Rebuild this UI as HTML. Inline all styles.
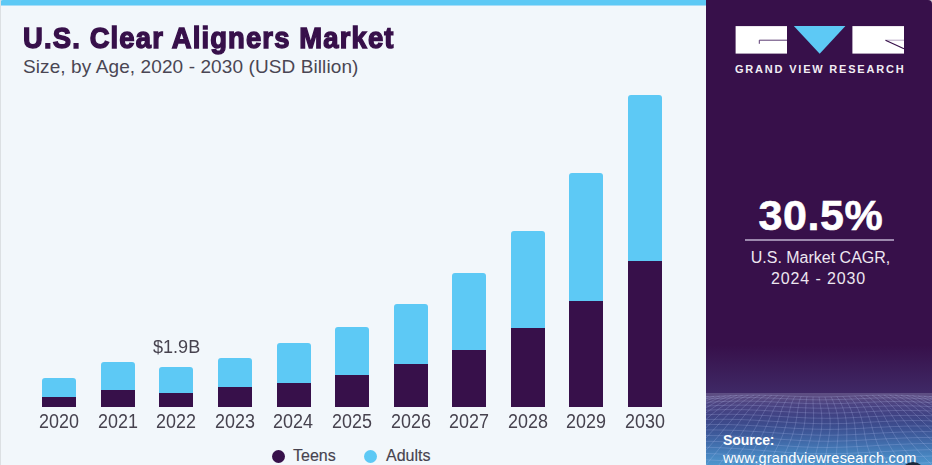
<!DOCTYPE html>
<html>
<head>
<meta charset="utf-8">
<style>
*{margin:0;padding:0;box-sizing:border-box;}
html,body{width:932px;height:465px;overflow:hidden;}
body{position:relative;background:#F2F7FB;}
body{font-family:"Liberation Sans",sans-serif;}
.abs{position:absolute;}
#topbar{left:0;top:0;width:706px;height:6px;border-top-left-radius:3px;background:linear-gradient(#5DC9F5 0,#5DC9F5 5px,#A6DDF8 5px);}
#title{left:22.5px;top:20.5px;font-size:29.5px;font-weight:bold;color:#37104A;white-space:nowrap;line-height:34px;letter-spacing:1.22px;transform:scaleX(0.93);transform-origin:0 0;-webkit-text-stroke:1.4px #37104A;}
#sub{left:23px;top:56px;font-size:19px;color:#4a4653;white-space:nowrap;line-height:22px;letter-spacing:0.1px;}
.bar{position:absolute;width:34px;}
.lt{background:#5DC9F5;border-radius:3px 3px 0 0;}
.dk{background:#37104A;}
.yl{position:absolute;top:410px;font-size:19.5px;color:#47434f;width:58px;text-align:center;line-height:22px;transform:scaleX(0.92);}
#val{left:153px;top:336px;font-size:19px;color:#47434f;line-height:22px;transform:scaleX(0.95);transform-origin:0 0;}
.dot{position:absolute;width:13px;height:13px;border-radius:50%;top:450px;}
.lg{position:absolute;top:446px;font-size:16px;color:#47434f;-webkit-text-stroke:0.15px #47434f;line-height:20px;}
#panel{left:706px;top:0;width:226px;height:465px;background:linear-gradient(180deg,#37104A 0px,#37104A 345px,#3F2966 393px);border-top-right-radius:4px;overflow:hidden;}
#panel .abs{position:absolute;}
#gvr{left:29px;top:61.5px;font-size:11px;font-weight:bold;letter-spacing:1.8px;color:#F2EDF4;white-space:nowrap;line-height:14px;}
#cagr{left:52.5px;top:190.5px;font-size:43px;font-weight:bold;color:#fff;white-space:nowrap;line-height:48px;letter-spacing:0.6px;-webkit-text-stroke:0.6px #fff;}
#hline{left:39px;top:239px;width:149px;height:2px;background:#9C88AE;}
#cagrt{left:1.5px;top:247px;width:226px;text-align:center;font-size:16px;color:#EDE6F0;line-height:21px;white-space:nowrap;}
#cagrt2{left:-0.5px;top:268px;width:226px;text-align:center;font-size:16px;color:#EDE6F0;line-height:21px;white-space:nowrap;letter-spacing:0.86px;}
#grad{left:0;top:393px;width:226px;height:72px;background:linear-gradient(180deg,#5F4F83 0px,#574980 5px,#4A4382 12px,#404384 22px,#3C4C8D 32px,#3E5C9C 42px,#4270AE 52px,#4784BF 62px,#4E96CD 72px);}
#src1{left:17px;top:431.5px;font-size:14px;font-weight:bold;color:#fff;line-height:16px;letter-spacing:-0.1px;}
#src2{left:17px;top:449.5px;font-size:14.5px;color:#fff;line-height:16px;white-space:nowrap;letter-spacing:0.2px;}
#circ{left:195px;top:462px;width:24px;height:24px;border-radius:50%;background:#1B2B3E;}
</style>
</head>
<body>
<div id="topbar" class="abs"></div>
<div class="abs" style="left:0;top:0;width:1px;height:465px;background:#DCE0E3"></div>
<div id="title" class="abs">U.S. Clear Aligners Market</div>
<div id="sub" class="abs">Size, by Age, 2020 - 2030 (USD Billion)</div>


<div class="bar lt" style="left:42.3px;top:378.4px;height:18.4px"></div>
<div class="bar dk" style="left:42.3px;top:396.8px;height:10.2px"></div>
<div class="bar lt" style="left:100.9px;top:361.7px;height:27.9px"></div>
<div class="bar dk" style="left:100.9px;top:389.6px;height:17.4px"></div>
<div class="bar lt" style="left:159.4px;top:367px;height:25.6px"></div>
<div class="bar dk" style="left:159.4px;top:392.6px;height:14.4px"></div>
<div class="bar lt" style="left:218.0px;top:358px;height:29.2px"></div>
<div class="bar dk" style="left:218.0px;top:387.2px;height:19.8px"></div>
<div class="bar lt" style="left:276.6px;top:343px;height:39.6px"></div>
<div class="bar dk" style="left:276.6px;top:382.6px;height:24.4px"></div>
<div class="bar lt" style="left:335.2px;top:327.4px;height:47.4px"></div>
<div class="bar dk" style="left:335.2px;top:374.8px;height:32.2px"></div>
<div class="bar lt" style="left:393.7px;top:304.2px;height:59.6px"></div>
<div class="bar dk" style="left:393.7px;top:363.8px;height:43.2px"></div>
<div class="bar lt" style="left:452.3px;top:273px;height:76.7px"></div>
<div class="bar dk" style="left:452.3px;top:349.7px;height:57.3px"></div>
<div class="bar lt" style="left:510.9px;top:231px;height:97.0px"></div>
<div class="bar dk" style="left:510.9px;top:328px;height:79.0px"></div>
<div class="bar lt" style="left:569.4px;top:173px;height:127.5px"></div>
<div class="bar dk" style="left:569.4px;top:300.5px;height:106.5px"></div>
<div class="bar lt" style="left:628.0px;top:95px;height:165.5px"></div>
<div class="bar dk" style="left:628.0px;top:260.5px;height:146.5px"></div>
<div class="yl" style="left:30.0px">2020</div>
<div class="yl" style="left:88.6px">2021</div>
<div class="yl" style="left:147.2px">2022</div>
<div class="yl" style="left:205.8px">2023</div>
<div class="yl" style="left:264.3px">2024</div>
<div class="yl" style="left:322.9px">2025</div>
<div class="yl" style="left:381.5px">2026</div>
<div class="yl" style="left:440.0px">2027</div>
<div class="yl" style="left:498.6px">2028</div>
<div class="yl" style="left:557.2px">2029</div>
<div class="yl" style="left:615.8px">2030</div>


<div id="val" class="abs">$1.9B</div>

<div class="dot" style="left:272px;background:#37104A"></div>
<div class="lg" style="left:293px">Teens</div>
<div class="dot" style="left:364px;background:#5DC9F5"></div>
<div class="lg" style="left:386px">Adults</div>

<div class="abs" style="left:924px;top:0;width:8px;height:8px;background:#CFCAD3"></div>
<div id="panel" class="abs">
<svg class="abs" style="left:0;top:0" width="226" height="465" viewBox="706 0 226 465">
<rect x="735.6" y="26.1" width="51.4" height="27.5" fill="#fff"/>
<path d="M787 40.2H759.3V43.8" fill="none" stroke="#5a3a72" stroke-width="1"/>
<polygon points="793.8,26 845.4,26 819.7,53.8" fill="#5DC9F5"/>
<rect x="852.4" y="26.1" width="51.6" height="27.5" fill="#fff"/>
<path d="M904 40.2H885.5" fill="none" stroke="#b8a8c4" stroke-width="1"/>
<path d="M885.5 40.2L904 48.8" fill="none" stroke="#37104A" stroke-width="1.2"/>
</svg>
<div id="gvr" class="abs">GRAND VIEW RESEARCH</div>
<div id="cagr" class="abs">30.5%</div>
<div id="hline" class="abs"></div>
<div id="cagrt" class="abs">U.S. Market CAGR,</div>
<div id="cagrt2" class="abs">2024 - 2030</div>
<div id="grad" class="abs"></div>
<svg id="mesh" class="abs" style="left:0;top:393px" width="226" height="72" viewBox="706 393 226 72"><path d="M702.9 396.7 L705.7 396.6 L708.5 396.6 L711.4 396.5 L714.2 396.3 L717.1 396.2 L719.9 396.1 L722.7 396.0 L725.6 395.9 L728.4 395.7 L731.3 395.6 L734.2 395.5 L737.0 395.4 L739.9 395.3 L742.8 395.3 L745.6 395.2 L748.5 395.2 L751.4 395.1 L754.3 395.1 L757.2 395.1 L760.1 395.2 L763.0 395.2 L765.9 395.3 L768.8 395.3 L771.8 395.4 L774.7 395.5 L777.6 395.6 L780.6 395.7 L783.5 395.8 L786.4 396.0 L789.4 396.1 L792.3 396.2 L795.3 396.3 L798.2 396.4 L801.2 396.5 L804.2 396.6 L807.1 396.7 L810.1 396.8 L813.1 396.8 L816.0 396.9 L819.0 396.9 L822.0 396.9 L824.9 396.9 L827.9 396.8 L830.9 396.8 L833.8 396.7 L836.8 396.6 L839.8 396.5 L842.7 396.4 L845.7 396.3 L848.6 396.2 L851.6 396.1 L854.5 396.0 L857.4 395.8 L860.4 395.7 L863.3 395.6 L866.2 395.5 L869.2 395.4 L872.1 395.3 L875.0 395.3 L877.9 395.2 L880.8 395.2 L883.7 395.1 L886.6 395.1 L889.5 395.1 L892.4 395.2 L895.2 395.2 L898.1 395.3 L901.0 395.3 L903.8 395.4 L906.7 395.5 L909.6 395.6 L912.4 395.7 L915.3 395.9 L918.1 396.0 L920.9 396.1 L923.8 396.2 L926.6 396.3 L929.5 396.5 L932.3 396.6 L935.1 396.6M701.9 399.2 L705.1 399.0 L708.2 398.9 L711.3 398.8 L714.4 398.6 L717.5 398.5 L720.7 398.3 L723.8 398.2 L726.9 398.1 L730.0 397.9 L733.2 397.8 L736.3 397.8 L739.4 397.7 L742.6 397.6 L745.7 397.6 L748.8 397.6 L752.0 397.6 L755.1 397.6 L758.3 397.7 L761.4 397.8 L764.6 397.9 L767.8 398.0 L770.9 398.1 L774.1 398.2 L777.3 398.3 L780.5 398.5 L783.7 398.6 L787.0 398.8 L790.2 398.9 L793.4 399.1 L796.7 399.2 L799.9 399.4 L803.2 399.5 L806.4 399.6 L809.7 399.7 L813.0 399.7 L816.2 399.8 L819.5 399.8 L822.7 399.8 L826.0 399.8 L829.2 399.7 L832.4 399.7 L835.7 399.6 L838.9 399.5 L842.1 399.4 L845.3 399.3 L848.4 399.2 L851.6 399.1 L854.8 398.9 L857.9 398.8 L861.1 398.6 L864.2 398.5 L867.3 398.4 L870.4 398.2 L873.5 398.1 L876.6 398.0 L879.7 398.0 L882.8 397.9 L885.9 397.8 L889.0 397.8 L892.1 397.8 L895.2 397.8 L898.3 397.9 L901.4 397.9 L904.5 398.0 L907.6 398.1 L910.6 398.2 L913.7 398.3 L916.8 398.4 L919.9 398.5 L923.0 398.7 L926.1 398.8 L929.2 399.0 L932.3 399.1 L935.4 399.3 L938.5 399.4M702.8 402.5 L706.2 402.3 L709.6 402.1 L713.0 402.0 L716.4 401.8 L719.8 401.6 L723.2 401.5 L726.6 401.4 L729.9 401.3 L733.3 401.2 L736.7 401.2 L740.1 401.1 L743.5 401.1 L746.8 401.1 L750.2 401.2 L753.6 401.2 L757.1 401.3 L760.5 401.4 L763.9 401.5 L767.4 401.7 L770.8 401.8 L774.3 402.0 L777.8 402.2 L781.3 402.4 L784.8 402.5 L788.3 402.7 L791.8 402.9 L795.4 403.1 L798.9 403.2 L802.5 403.3 L806.0 403.5 L809.5 403.6 L813.1 403.6 L816.6 403.7 L820.1 403.7 L823.6 403.8 L827.1 403.7 L830.6 403.7 L834.1 403.7 L837.5 403.6 L841.0 403.5 L844.4 403.4 L847.8 403.2 L851.1 403.1 L854.5 402.9 L857.8 402.8 L861.2 402.6 L864.5 402.5 L867.8 402.3 L871.1 402.2 L874.4 402.0 L877.6 401.9 L880.9 401.8 L884.2 401.7 L887.5 401.6 L890.8 401.6 L894.1 401.5 L897.4 401.5 L900.7 401.6 L904.0 401.6 L907.3 401.7 L910.6 401.7 L914.0 401.8 L917.3 402.0 L920.7 402.1 L924.0 402.2 L927.4 402.4 L930.7 402.6 L934.1 402.7 L937.4 402.9M701.9 406.3 L705.5 406.1 L709.2 405.9 L712.8 405.8 L716.4 405.6 L720.1 405.5 L723.7 405.4 L727.3 405.3 L731.0 405.2 L734.6 405.2 L738.2 405.2 L741.9 405.2 L745.5 405.2 L749.2 405.3 L752.8 405.4 L756.5 405.5 L760.2 405.7 L764.0 405.8 L767.7 406.0 L771.5 406.2 L775.3 406.4 L779.0 406.6 L782.8 406.8 L786.7 407.0 L790.5 407.2 L794.3 407.4 L798.1 407.6 L801.9 407.7 L805.7 407.9 L809.5 408.0 L813.3 408.1 L817.1 408.2 L820.9 408.2 L824.6 408.2 L828.3 408.2 L832.0 408.2 L835.6 408.1 L839.3 408.1 L842.9 407.9 L846.5 407.8 L850.0 407.7 L853.6 407.5 L857.1 407.4 L860.6 407.2 L864.1 407.0 L867.5 406.8 L871.0 406.7 L874.5 406.5 L877.9 406.3 L881.4 406.2 L884.9 406.1 L888.4 406.0 L891.9 405.9 L895.4 405.8 L898.9 405.8 L902.4 405.8 L906.0 405.8 L909.5 405.9 L913.1 405.9 L916.7 406.0 L920.3 406.1 L923.9 406.3 L927.5 406.4 L931.1 406.6 L934.7 406.8 L938.3 407.0M702.1 410.4 L706.0 410.2 L709.9 410.1 L713.8 409.9 L717.6 409.8 L721.5 409.7 L725.4 409.6 L729.2 409.6 L733.1 409.6 L737.0 409.6 L740.9 409.7 L744.9 409.7 L748.8 409.9 L752.8 410.0 L756.8 410.2 L760.8 410.3 L764.8 410.5 L768.9 410.8 L772.9 411.0 L777.0 411.2 L781.1 411.5 L785.2 411.7 L789.3 411.9 L793.3 412.1 L797.4 412.3 L801.5 412.5 L805.5 412.7 L809.6 412.8 L813.6 412.9 L817.5 413.0 L821.5 413.1 L825.4 413.1 L829.3 413.1 L833.1 413.1 L837.0 413.0 L840.7 412.9 L844.5 412.8 L848.2 412.7 L851.9 412.5 L855.6 412.3 L859.3 412.1 L862.9 412.0 L866.6 411.8 L870.2 411.6 L873.9 411.4 L877.5 411.2 L881.2 411.0 L884.9 410.9 L888.6 410.7 L892.3 410.6 L896.0 410.5 L899.8 410.5 L903.5 410.4 L907.3 410.4 L911.1 410.5 L915.0 410.5 L918.8 410.6 L922.7 410.7 L926.6 410.8 L930.5 411.0 L934.3 411.1 L938.2 411.3M703.5 414.9 L707.6 414.7 L711.7 414.5 L715.8 414.4 L719.9 414.4 L724.0 414.3 L728.2 414.3 L732.3 414.3 L736.5 414.4 L740.7 414.5 L744.9 414.6 L749.2 414.8 L753.5 415.0 L757.8 415.2 L762.1 415.4 L766.4 415.6 L770.7 415.9 L775.1 416.2 L779.4 416.4 L783.7 416.7 L788.1 416.9 L792.4 417.2 L796.7 417.4 L801.0 417.6 L805.2 417.8 L809.4 418.0 L813.6 418.1 L817.8 418.2 L821.9 418.2 L825.9 418.3 L830.0 418.3 L833.9 418.2 L837.9 418.2 L841.8 418.1 L845.7 417.9 L849.6 417.8 L853.4 417.6 L857.3 417.4 L861.1 417.2 L864.9 417.0 L868.7 416.8 L872.6 416.6 L876.4 416.4 L880.3 416.2 L884.2 416.0 L888.1 415.8 L892.0 415.7 L896.0 415.6 L900.0 415.5 L904.0 415.4 L908.1 415.4 L912.2 415.4 L916.3 415.4 L920.4 415.5 L924.6 415.5 L928.8 415.7 L932.9 415.8 L937.1 416.0M701.5 419.7 L705.8 419.6 L710.2 419.4 L714.5 419.4 L718.9 419.3 L723.3 419.3 L727.7 419.3 L732.2 419.4 L736.6 419.5 L741.1 419.6 L745.7 419.8 L750.2 420.0 L754.8 420.2 L759.3 420.5 L763.9 420.8 L768.5 421.1 L773.1 421.3 L777.7 421.6 L782.2 421.9 L786.8 422.2 L791.3 422.5 L795.8 422.7 L800.2 423.0 L804.6 423.2 L809.0 423.3 L813.3 423.5 L817.6 423.6 L821.8 423.7 L826.0 423.7 L830.2 423.7 L834.3 423.7 L838.4 423.6 L842.4 423.5 L846.5 423.4 L850.5 423.2 L854.5 423.0 L858.5 422.8 L862.5 422.6 L866.5 422.4 L870.6 422.1 L874.6 421.9 L878.7 421.7 L882.8 421.5 L887.0 421.3 L891.2 421.1 L895.4 420.9 L899.7 420.8 L904.0 420.7 L908.4 420.6 L912.8 420.6 L917.2 420.6 L921.6 420.6 L926.1 420.7 L930.5 420.8 L935.0 420.9 L939.5 421.1M704.5 424.7 L709.1 424.6 L713.8 424.5 L718.4 424.5 L723.1 424.5 L727.8 424.6 L732.6 424.7 L737.3 424.9 L742.1 425.1 L746.9 425.3 L751.7 425.6 L756.5 425.8 L761.4 426.1 L766.2 426.4 L771.0 426.8 L775.7 427.1 L780.5 427.4 L785.2 427.7 L789.9 428.0 L794.5 428.3 L799.1 428.5 L803.7 428.8 L808.2 428.9 L812.6 429.1 L817.0 429.2 L821.4 429.3 L825.7 429.4 L829.9 429.4 L834.2 429.3 L838.4 429.3 L842.6 429.1 L846.8 429.0 L851.0 428.8 L855.2 428.6 L859.4 428.4 L863.6 428.2 L867.9 427.9 L872.2 427.7 L876.5 427.4 L880.9 427.2 L885.4 427.0 L889.8 426.7 L894.4 426.5 L899.0 426.4 L903.6 426.2 L908.2 426.1 L912.9 426.0 L917.7 426.0 L922.4 426.0 L927.2 426.0 L932.0 426.1 L936.8 426.2M703.7 430.0 L708.5 429.9 L713.4 429.9 L718.4 430.0 L723.4 430.0 L728.4 430.2 L733.4 430.3 L738.4 430.5 L743.4 430.8 L748.5 431.1 L753.5 431.4 L758.6 431.7 L763.6 432.0 L768.6 432.4 L773.5 432.7 L778.4 433.1 L783.3 433.4 L788.1 433.7 L792.9 434.0 L797.6 434.3 L802.2 434.5 L806.8 434.8 L811.4 434.9 L815.9 435.1 L820.4 435.2 L824.8 435.2 L829.2 435.2 L833.6 435.2 L838.0 435.1 L842.4 435.0 L846.8 434.8 L851.2 434.7 L855.7 434.4 L860.2 434.2 L864.7 434.0 L869.3 433.7 L873.9 433.4 L878.6 433.2 L883.3 432.9 L888.1 432.7 L892.9 432.4 L897.8 432.2 L902.8 432.0 L907.8 431.9 L912.8 431.8 L917.9 431.7 L923.0 431.6 L928.1 431.6 L933.2 431.7 L938.3 431.7M703.1 435.5 L708.3 435.5 L713.5 435.6 L718.7 435.6 L723.9 435.8 L729.2 436.0 L734.5 436.2 L739.7 436.5 L745.0 436.7 L750.2 437.1 L755.5 437.4 L760.6 437.8 L765.8 438.2 L770.9 438.5 L775.9 438.9 L780.9 439.3 L785.9 439.6 L790.7 439.9 L795.6 440.2 L800.4 440.5 L805.1 440.7 L809.8 440.9 L814.4 441.1 L819.0 441.2 L823.7 441.2 L828.2 441.3 L832.8 441.2 L837.5 441.1 L842.1 441.0 L846.8 440.9 L851.5 440.7 L856.2 440.4 L861.0 440.2 L865.9 439.9 L870.8 439.6 L875.8 439.4 L880.9 439.1 L886.0 438.8 L891.2 438.5 L896.4 438.3 L901.7 438.1 L907.1 437.9 L912.4 437.7 L917.8 437.6 L923.3 437.5 L928.7 437.4 L934.2 437.4 L939.6 437.5M702.9 441.3 L708.3 441.3 L713.8 441.4 L719.3 441.6 L724.8 441.8 L730.3 442.0 L735.7 442.3 L741.2 442.6 L746.6 443.0 L752.0 443.3 L757.3 443.7 L762.6 444.1 L767.8 444.5 L773.0 444.9 L778.1 445.3 L783.2 445.7 L788.2 446.0 L793.2 446.4 L798.1 446.7 L803.0 446.9 L807.8 447.1 L812.6 447.3 L817.5 447.4 L822.3 447.4 L827.1 447.5 L832.0 447.4 L836.9 447.3 L841.8 447.2 L846.8 447.0 L851.9 446.8 L857.0 446.6 L862.2 446.3 L867.4 446.1 L872.8 445.8 L878.2 445.4 L883.7 445.1 L889.2 444.8 L894.8 444.6 L900.5 444.3 L906.2 444.1 L911.9 443.8 L917.7 443.7 L923.4 443.5 L929.2 443.4 L935.0 443.4M702.9 447.2 L708.6 447.3 L714.3 447.5 L720.1 447.7 L725.7 448.0 L731.4 448.3 L737.0 448.6 L742.6 449.0 L748.2 449.4 L753.7 449.8 L759.1 450.2 L764.5 450.7 L769.8 451.1 L775.0 451.5 L780.2 451.9 L785.4 452.3 L790.5 452.6 L795.6 452.9 L800.7 453.2 L805.7 453.4 L810.8 453.6 L815.9 453.7 L821.0 453.8 L826.1 453.8 L831.3 453.8 L836.5 453.7 L841.8 453.6 L847.2 453.4 L852.7 453.2 L858.2 452.9 L863.8 452.6 L869.5 452.3 L875.3 452.0 L881.2 451.7 L887.1 451.4 L893.1 451.1 L899.1 450.8 L905.2 450.5 L911.3 450.2 L917.4 450.0 L923.5 449.8 L929.6 449.7 L935.7 449.6M703.2 453.4 L709.2 453.6 L715.1 453.8 L721.0 454.1 L726.8 454.4 L732.7 454.8 L738.4 455.2 L744.1 455.6 L749.8 456.0 L755.3 456.5 L760.9 456.9 L766.3 457.4 L771.7 457.8 L777.1 458.3 L782.5 458.7 L787.8 459.0 L793.1 459.4 L798.4 459.7 L803.7 459.9 L809.1 460.1 L814.5 460.2 L819.9 460.3 L825.4 460.3 L831.0 460.3 L836.7 460.2 L842.4 460.0 L848.2 459.9 L854.1 459.6 L860.1 459.4 L866.2 459.1 L872.3 458.8 L878.6 458.4 L884.9 458.1 L891.2 457.7 L897.6 457.4 L904.0 457.1 L910.5 456.8 L916.9 456.5 L923.4 456.3 L929.8 456.1 L936.1 455.9M703.9 459.8 L710.0 460.0 L716.1 460.3 L722.1 460.7 L728.1 461.0 L734.0 461.5 L739.9 461.9 L745.7 462.4 L751.5 462.9 L757.2 463.4 L762.8 463.8 L768.4 464.3 L774.0 464.8 L779.6 465.2 L785.2 465.6 L790.8 465.9 L796.4 466.2 L802.1 466.5 L807.8 466.7 L813.5 466.8 L819.4 466.9 L825.3 466.9 L831.3 466.9 L837.4 466.8 L843.6 466.7 L849.9 466.5 L856.3 466.2 L862.8 465.9 L869.3 465.6 L875.9 465.3 L882.6 465.0 L889.3 464.6 L896.0 464.2 L902.8 463.9 L909.5 463.6 L916.3 463.2 L923.0 463.0 L929.7 462.7 L936.3 462.5M704.9 466.4 L711.2 466.7 L717.4 467.0 L723.6 467.4 L729.7 467.9 L735.7 468.4 L741.7 468.9 L747.7 469.4 L753.6 469.9 L759.5 470.4 L765.3 470.9 L771.2 471.4 L777.1 471.8 L783.0 472.3 L788.9 472.6 L794.9 473.0 L800.9 473.2 L807.0 473.4 L813.2 473.6 L819.5 473.7 L825.9 473.7 L832.4 473.7 L839.0 473.6 L845.6 473.4 L852.4 473.2 L859.2 473.0 L866.1 472.7 L873.1 472.3 L880.1 472.0 L887.2 471.6 L894.3 471.2 L901.3 470.9 L908.4 470.5 L915.4 470.1 L922.4 469.8 L929.3 469.5 L936.2 469.3M674.5 396.6 L666.1 398.3 L657.7 400.7 L649.1 403.3 L640.4 406.2 L631.8 409.2 L623.1 412.5 L614.6 415.8 L606.2 419.3 L597.9 422.9 L589.9 426.5 L582.1 430.3 L574.6 434.2 L567.2 438.1 L560.1 442.1 L553.1 446.2 L546.2 450.4 L539.2 454.6 L532.2 458.9 L525.1 463.2 L517.7 467.6 L510.0 472.1 L502.0 476.6M680.2 396.8 L672.1 398.5 L663.9 400.8 L655.6 403.5 L647.3 406.4 L639.1 409.4 L630.9 412.7 L622.8 416.0 L614.8 419.5 L607.1 423.1 L599.5 426.8 L592.2 430.6 L585.1 434.5 L578.2 438.4 L571.4 442.4 L564.7 446.5 L558.1 450.7 L551.3 454.9 L544.5 459.2 L537.4 463.6 L530.0 468.0 L522.3 472.4 L514.3 476.9M685.9 396.9 L678.1 398.6 L670.2 400.9 L662.3 403.6 L654.3 406.5 L646.5 409.6 L638.7 412.8 L631.0 416.2 L623.5 419.6 L616.3 423.2 L609.2 426.9 L602.3 430.7 L595.6 434.6 L589.1 438.5 L582.6 442.6 L576.2 446.7 L569.7 450.8 L563.1 455.1 L556.3 459.4 L549.3 463.7 L542.0 468.1 L534.3 472.6 L526.2 477.1M691.5 396.9 L684.0 398.6 L676.5 400.9 L668.9 403.6 L661.4 406.5 L653.9 409.6 L646.6 412.8 L639.4 416.1 L632.4 419.6 L625.5 423.2 L618.9 426.9 L612.4 430.7 L606.1 434.6 L599.8 438.5 L593.6 442.5 L587.4 446.6 L581.1 450.8 L574.6 455.0 L567.9 459.3 L560.9 463.7 L553.6 468.1 L545.9 472.5 L537.9 477.1M697.2 396.8 L690.0 398.5 L682.8 400.9 L675.6 403.5 L668.5 406.4 L661.5 409.4 L654.6 412.7 L647.8 416.0 L641.2 419.5 L634.8 423.1 L628.5 426.7 L622.4 430.5 L616.4 434.4 L610.4 438.3 L604.4 442.3 L598.4 446.4 L592.2 450.6 L585.8 454.8 L579.1 459.1 L572.2 463.4 L565.0 467.8 L557.4 472.3 L549.5 476.8M702.9 396.7 L696.0 398.4 L689.2 400.7 L682.4 403.3 L675.7 406.2 L669.1 409.2 L662.6 412.4 L656.2 415.8 L650.0 419.2 L644.0 422.8 L638.0 426.4 L632.2 430.2 L626.5 434.0 L620.8 438.0 L615.0 442.0 L609.1 446.0 L603.0 450.2 L596.7 454.4 L590.2 458.6 L583.3 462.9 L576.2 467.3 L568.8 471.7 L561.1 476.2M708.5 396.6 L702.1 398.2 L695.6 400.5 L689.2 403.1 L682.9 405.9 L676.6 408.9 L670.5 412.1 L664.6 415.4 L658.8 418.9 L653.1 422.4 L647.5 426.0 L641.9 429.8 L636.4 433.6 L630.9 437.5 L625.3 441.4 L619.6 445.5 L613.6 449.6 L607.5 453.7 L601.0 458.0 L594.3 462.3 L587.4 466.6 L580.2 471.0 L572.8 475.5M714.2 396.3 L708.1 398.0 L702.0 400.2 L696.0 402.8 L690.1 405.6 L684.2 408.6 L678.5 411.7 L672.9 415.0 L667.4 418.4 L662.1 421.9 L656.8 425.5 L651.5 429.2 L646.2 433.0 L640.9 436.9 L635.5 440.8 L629.9 444.8 L624.1 448.9 L618.1 453.0 L611.8 457.2 L605.4 461.5 L598.6 465.8 L591.7 470.2 L584.7 474.6M719.9 396.1 L714.2 397.7 L708.5 399.9 L702.8 402.5 L697.3 405.2 L691.8 408.2 L686.4 411.3 L681.2 414.5 L676.0 417.9 L671.0 421.4 L665.9 424.9 L660.9 428.6 L655.9 432.4 L650.7 436.2 L645.5 440.1 L640.1 444.1 L634.5 448.1 L628.7 452.2 L622.7 456.4 L616.5 460.6 L610.1 464.9 L603.5 469.3 L596.9 473.7M725.6 395.9 L720.2 397.4 L714.9 399.6 L709.6 402.1 L704.4 404.9 L699.3 407.8 L694.3 410.9 L689.4 414.1 L684.5 417.4 L679.8 420.8 L675.0 424.4 L670.2 428.0 L665.4 431.7 L660.5 435.5 L655.5 439.4 L650.3 443.3 L644.9 447.4 L639.4 451.4 L633.7 455.6 L627.8 459.8 L621.7 464.0 L615.6 468.3 L609.4 472.7M731.3 395.6 L726.3 397.2 L721.3 399.3 L716.4 401.8 L711.6 404.5 L706.8 407.4 L702.1 410.4 L697.5 413.6 L693.0 416.9 L688.5 420.3 L684.0 423.8 L679.5 427.4 L674.9 431.1 L670.3 434.9 L665.5 438.7 L660.6 442.7 L655.5 446.6 L650.2 450.7 L644.8 454.8 L639.3 459.0 L633.6 463.2 L627.9 467.5 L622.2 471.8M737.0 395.4 L732.4 396.9 L727.7 399.1 L723.2 401.5 L718.7 404.2 L714.2 407.1 L709.9 410.1 L705.6 413.2 L701.3 416.5 L697.1 419.9 L692.9 423.4 L688.7 426.9 L684.4 430.6 L680.0 434.4 L675.5 438.2 L670.9 442.1 L666.1 446.0 L661.2 450.0 L656.2 454.1 L651.0 458.3 L645.8 462.5 L640.5 466.7 L635.3 471.0M742.8 395.3 L738.5 396.7 L734.2 398.9 L729.9 401.3 L725.8 404.0 L721.7 406.8 L717.6 409.8 L713.6 412.9 L709.7 416.2 L705.8 419.6 L701.9 423.0 L698.0 426.6 L694.0 430.2 L689.9 433.9 L685.7 437.7 L681.4 441.6 L677.0 445.5 L672.4 449.6 L667.7 453.6 L663.0 457.7 L658.1 461.9 L653.3 466.2 L648.6 470.4M748.5 395.2 L744.5 396.6 L740.6 398.7 L736.7 401.2 L732.9 403.8 L729.1 406.6 L725.4 409.6 L721.7 412.8 L718.1 416.0 L714.5 419.4 L710.9 422.8 L707.3 426.4 L703.7 430.0 L699.9 433.7 L696.1 437.5 L692.1 441.3 L688.0 445.3 L683.8 449.3 L679.5 453.3 L675.1 457.4 L670.7 461.6 L666.3 465.8 L661.9 470.1M754.3 395.1 L750.7 396.6 L747.0 398.7 L743.5 401.1 L739.9 403.8 L736.5 406.6 L733.1 409.6 L729.8 412.7 L726.5 415.9 L723.3 419.3 L720.1 422.7 L716.8 426.3 L713.4 429.9 L710.0 433.6 L706.5 437.4 L702.9 441.3 L699.1 445.2 L695.3 449.2 L691.3 453.2 L687.3 457.3 L683.3 461.5 L679.2 465.7 L675.3 470.0M760.1 395.2 L756.8 396.6 L753.5 398.7 L750.2 401.2 L747.1 403.8 L744.0 406.7 L740.9 409.7 L738.0 412.8 L735.1 416.0 L732.2 419.4 L729.3 422.9 L726.3 426.4 L723.4 430.0 L720.3 433.8 L717.1 437.6 L713.8 441.4 L710.4 445.3 L706.9 449.3 L703.2 453.4 L699.5 457.5 L695.8 461.7 L692.1 465.9 L688.5 470.2M765.9 395.3 L762.9 396.7 L760.0 398.9 L757.1 401.3 L754.2 404.0 L751.5 406.8 L748.8 409.9 L746.2 413.0 L743.7 416.3 L741.1 419.6 L738.6 423.1 L736.0 426.7 L733.4 430.3 L730.6 434.1 L727.8 437.9 L724.8 441.8 L721.7 445.7 L718.4 449.7 L715.1 453.8 L711.7 457.9 L708.3 462.1 L704.9 466.4 L701.5 470.7M771.8 395.4 L769.1 396.9 L766.5 399.1 L763.9 401.5 L761.4 404.2 L759.1 407.1 L756.8 410.2 L754.6 413.3 L752.4 416.6 L750.2 420.0 L748.0 423.5 L745.8 427.1 L743.4 430.8 L741.0 434.5 L738.4 438.4 L735.7 442.3 L732.9 446.3 L729.9 450.3 L726.8 454.4 L723.7 458.6 L720.5 462.8 L717.4 467.0 L714.3 471.4M777.6 395.6 L775.3 397.2 L773.0 399.3 L770.8 401.8 L768.7 404.6 L766.7 407.5 L764.8 410.5 L763.0 413.7 L761.2 417.1 L759.3 420.5 L757.5 424.0 L755.6 427.7 L753.5 431.4 L751.4 435.2 L749.1 439.0 L746.6 443.0 L744.0 447.0 L741.3 451.0 L738.4 455.2 L735.5 459.3 L732.6 463.6 L729.7 467.9 L726.8 472.2M783.5 395.8 L781.5 397.4 L779.6 399.6 L777.8 402.2 L776.1 404.9 L774.5 407.9 L772.9 411.0 L771.5 414.2 L770.0 417.6 L768.5 421.1 L767.0 424.6 L765.3 428.3 L763.6 432.0 L761.7 435.8 L759.6 439.7 L757.3 443.7 L754.9 447.8 L752.4 451.9 L749.8 456.0 L747.1 460.2 L744.4 464.5 L741.7 468.9 L739.2 473.3M789.4 396.1 L787.7 397.7 L786.2 400.0 L784.8 402.5 L783.5 405.3 L782.2 408.3 L781.1 411.5 L780.0 414.7 L778.8 418.1 L777.7 421.6 L776.4 425.2 L775.0 428.9 L773.5 432.7 L771.8 436.6 L769.9 440.5 L767.8 444.5 L765.6 448.6 L763.3 452.7 L760.9 456.9 L758.4 461.2 L756.0 465.5 L753.6 469.9 L751.4 474.3M795.3 396.3 L794.0 398.0 L792.9 400.3 L791.8 402.9 L790.9 405.7 L790.1 408.7 L789.3 411.9 L788.5 415.2 L787.7 418.7 L786.8 422.2 L785.8 425.8 L784.6 429.6 L783.3 433.4 L781.8 437.3 L780.0 441.3 L778.1 445.3 L776.1 449.4 L774.0 453.6 L771.7 457.8 L769.5 462.1 L767.4 466.5 L765.3 470.9 L763.5 475.4M801.2 396.5 L800.3 398.2 L799.6 400.6 L798.9 403.2 L798.4 406.1 L797.9 409.1 L797.4 412.3 L797.0 415.7 L796.4 419.2 L795.8 422.7 L795.0 426.4 L794.0 430.2 L792.9 434.0 L791.5 438.0 L789.9 442.0 L788.2 446.0 L786.4 450.2 L784.4 454.4 L782.5 458.7 L780.5 463.0 L778.7 467.4 L777.1 471.8 L775.6 476.3M807.1 396.7 L806.6 398.4 L806.3 400.8 L806.0 403.5 L805.8 406.4 L805.7 409.4 L805.5 412.7 L805.3 416.1 L805.1 419.6 L804.6 423.2 L804.0 426.9 L803.2 430.7 L802.2 434.5 L801.0 438.5 L799.6 442.5 L798.1 446.7 L796.4 450.8 L794.8 455.1 L793.1 459.4 L791.5 463.7 L790.1 468.2 L788.9 472.6 L787.9 477.2M813.1 396.8 L813.0 398.6 L813.0 401.0 L813.1 403.6 L813.2 406.6 L813.4 409.7 L813.6 412.9 L813.6 416.3 L813.6 419.9 L813.3 423.5 L812.9 427.2 L812.3 431.0 L811.4 434.9 L810.4 438.9 L809.1 443.0 L807.8 447.1 L806.4 451.3 L805.0 455.6 L803.7 459.9 L802.6 464.3 L801.6 468.7 L800.9 473.2 L800.5 477.8M819.0 396.9 L819.3 398.6 L819.7 401.0 L820.1 403.7 L820.6 406.7 L821.1 409.8 L821.5 413.1 L821.8 416.5 L821.9 420.0 L821.8 423.7 L821.6 427.4 L821.1 431.2 L820.4 435.2 L819.5 439.2 L818.5 443.2 L817.5 447.4 L816.4 451.6 L815.4 455.9 L814.5 460.2 L813.8 464.6 L813.4 469.1 L813.2 473.6 L813.4 478.1M824.9 396.9 L825.6 398.6 L826.3 401.0 L827.1 403.7 L827.9 406.7 L828.7 409.8 L829.3 413.1 L829.8 416.5 L830.1 420.1 L830.2 423.7 L830.1 427.5 L829.8 431.3 L829.2 435.2 L828.6 439.2 L827.9 443.3 L827.1 447.5 L826.4 451.7 L825.8 456.0 L825.4 460.3 L825.3 464.7 L825.4 469.2 L825.9 473.7 L826.7 478.3M830.9 396.8 L831.9 398.5 L833.0 400.9 L834.1 403.7 L835.1 406.6 L836.1 409.7 L837.0 413.0 L837.6 416.4 L838.1 420.0 L838.4 423.6 L838.4 427.3 L838.3 431.2 L838.0 435.1 L837.7 439.1 L837.3 443.2 L836.9 447.3 L836.6 451.6 L836.5 455.8 L836.7 460.2 L837.1 464.6 L837.9 469.0 L839.0 473.6 L840.4 478.1M836.8 396.6 L838.2 398.4 L839.6 400.8 L841.0 403.5 L842.3 406.4 L843.5 409.5 L844.5 412.8 L845.4 416.2 L846.0 419.7 L846.5 423.4 L846.7 427.1 L846.8 430.9 L846.8 434.8 L846.8 438.8 L846.7 442.9 L846.8 447.0 L847.0 451.2 L847.5 455.5 L848.2 459.9 L849.3 464.2 L850.7 468.7 L852.4 473.2 L854.4 477.8M842.7 396.4 L844.4 398.2 L846.1 400.5 L847.8 403.2 L849.3 406.1 L850.7 409.2 L851.9 412.5 L853.0 415.9 L853.8 419.4 L854.5 423.0 L855.0 426.7 L855.4 430.5 L855.7 434.4 L856.0 438.4 L856.4 442.5 L857.0 446.6 L857.7 450.8 L858.8 455.0 L860.1 459.4 L861.8 463.7 L863.8 468.2 L866.1 472.7 L868.8 477.2M848.6 396.2 L850.6 397.9 L852.6 400.3 L854.5 402.9 L856.3 405.8 L857.9 408.9 L859.3 412.1 L860.5 415.5 L861.6 419.0 L862.5 422.6 L863.3 426.3 L864.0 430.1 L864.7 434.0 L865.4 437.9 L866.3 441.9 L867.4 446.1 L868.8 450.2 L870.4 454.5 L872.3 458.8 L874.6 463.1 L877.2 467.5 L880.1 472.0 L883.2 476.5M854.5 396.0 L856.8 397.7 L859.0 400.0 L861.2 402.6 L863.1 405.5 L865.0 408.5 L866.6 411.8 L868.1 415.1 L869.4 418.6 L870.6 422.1 L871.7 425.8 L872.7 429.6 L873.9 433.4 L875.1 437.4 L876.5 441.4 L878.2 445.4 L880.1 449.6 L882.3 453.8 L884.9 458.1 L887.7 462.4 L890.9 466.8 L894.3 471.2 L897.8 475.7M860.4 395.7 L862.9 397.4 L865.4 399.7 L867.8 402.3 L870.0 405.2 L872.0 408.2 L873.9 411.4 L875.6 414.7 L877.2 418.1 L878.7 421.7 L880.2 425.3 L881.7 429.1 L883.3 432.9 L885.0 436.8 L887.0 440.8 L889.2 444.8 L891.7 449.0 L894.5 453.2 L897.6 457.4 L901.0 461.7 L904.6 466.1 L908.4 470.5 L912.2 475.0M866.2 395.5 L869.1 397.2 L871.8 399.4 L874.4 402.0 L876.8 404.8 L879.1 407.9 L881.2 411.0 L883.2 414.3 L885.1 417.7 L887.0 421.3 L888.9 424.9 L890.8 428.6 L892.9 432.4 L895.2 436.3 L897.7 440.3 L900.5 444.3 L903.5 448.4 L906.9 452.6 L910.5 456.8 L914.3 461.1 L918.3 465.4 L922.4 469.8 L926.5 474.3M872.1 395.3 L875.1 397.0 L878.1 399.2 L880.9 401.8 L883.6 404.6 L886.1 407.6 L888.6 410.7 L890.9 414.0 L893.2 417.4 L895.4 420.9 L897.8 424.5 L900.2 428.2 L902.8 432.0 L905.6 435.9 L908.6 439.8 L911.9 443.8 L915.5 447.9 L919.3 452.1 L923.4 456.3 L927.6 460.6 L931.9 464.9 L936.2 469.3 L940.4 473.7M877.9 395.2 L881.2 396.8 L884.4 399.1 L887.5 401.6 L890.4 404.4 L893.3 407.4 L896.0 410.5 L898.7 413.8 L901.3 417.2 L904.0 420.7 L906.8 424.3 L909.7 428.0 L912.8 431.8 L916.1 435.6 L919.7 439.5 L923.4 443.5 L927.5 447.6 L931.7 451.7 L936.1 455.9 L940.6 460.2 L945.2 464.5 L949.7 468.9 L954.0 473.3M883.7 395.1 L887.3 396.7 L890.7 399.0 L894.1 401.5 L897.3 404.3 L900.5 407.3 L903.5 410.4 L906.6 413.7 L909.6 417.1 L912.8 420.6 L916.0 424.2 L919.4 427.9 L923.0 431.6 L926.7 435.5 L930.8 439.4 L935.0 443.4 L939.4 447.5 L944.0 451.6 L948.7 455.8 L953.5 460.0 L958.2 464.4 L962.8 468.7 L967.2 473.1M889.5 395.1 L893.3 396.7 L897.0 399.0 L900.7 401.6 L904.2 404.3 L907.7 407.3 L911.1 410.5 L914.6 413.7 L918.1 417.1 L921.6 420.6 L925.3 424.2 L929.1 427.9 L933.2 431.7 L937.4 435.5 L941.9 439.4 L946.5 443.4 L951.3 447.5 L956.2 451.6 L961.1 455.8 L966.0 460.1 L970.9 464.4 L975.6 468.8 L980.0 473.2M895.2 395.2 L899.3 396.8 L903.4 399.1 L907.3 401.7 L911.2 404.5 L915.0 407.4 L918.8 410.6 L922.7 413.9 L926.5 417.3 L930.5 420.8 L934.7 424.4 L938.9 428.1 L943.4 431.9 L948.0 435.7 L952.9 439.7 L957.8 443.7 L962.9 447.7 L968.1 451.9 L973.2 456.1 L978.3 460.4 L983.2 464.7 L988.0 469.1 L992.5 473.5M901.0 395.3 L905.4 397.0 L909.7 399.3 L914.0 401.8 L918.2 404.7 L922.4 407.7 L926.6 410.8 L930.8 414.1 L935.1 417.5 L939.5 421.1 L944.0 424.7 L948.7 428.4 L953.6 432.2 L958.6 436.1 L963.7 440.0 L969.0 444.1 L974.3 448.2 L979.7 452.3 L985.0 456.5 L990.2 460.8 L995.3 465.2 L1000.1 469.6 L1004.7 474.0M906.7 395.5 L911.4 397.2 L916.1 399.5 L920.7 402.1 L925.2 404.9 L929.8 408.0 L934.3 411.1 L939.0 414.5 L943.7 417.9 L948.5 421.4 L953.4 425.1 L958.4 428.8 L963.6 432.7 L969.0 436.6 L974.4 440.5 L980.0 444.6 L985.5 448.7 L991.1 452.9 L996.6 457.1 L1002.0 461.4 L1007.1 465.8 L1012.1 470.2 L1016.8 474.7M912.4 395.7 L917.4 397.4 L922.4 399.8 L927.4 402.4 L932.3 405.3 L937.2 408.3 L942.1 411.5 L947.1 414.9 L952.2 418.3 L957.4 421.9 L962.7 425.6 L968.1 429.3 L973.6 433.2 L979.2 437.1 L985.0 441.1 L990.8 445.2 L996.6 449.4 L1002.3 453.6 L1008.0 457.8 L1013.5 462.2 L1018.9 466.6 L1024.0 471.0 L1028.9 475.5M918.1 396.0 L923.5 397.7 L928.8 400.1 L934.1 402.7 L939.3 405.6 L944.6 408.7 L949.9 411.9 L955.3 415.3 L960.7 418.8 L966.2 422.4 L971.8 426.1 L977.6 429.9 L983.4 433.8 L989.3 437.7 L995.4 441.8 L1001.4 445.9 L1007.4 450.0 L1013.4 454.3 L1019.3 458.6 L1025.0 462.9 L1030.6 467.4 L1035.9 471.8 L1041.1 476.4M923.8 396.2 L929.5 398.0 L935.1 400.4 L940.8 403.0 L946.4 406.0 L952.0 409.1 L957.6 412.3 L963.3 415.7 L969.1 419.3 L975.0 422.9 L980.9 426.6 L987.0 430.4 L993.1 434.3 L999.3 438.3 L1005.6 442.4 L1011.9 446.5 L1018.2 450.7 L1024.4 455.0 L1030.5 459.3 L1036.5 463.7 L1042.3 468.2 L1048.0 472.7 L1053.4 477.2M929.5 396.5 L935.5 398.2 L941.5 400.6 L947.4 403.3 L953.4 406.3 L959.3 409.4 L965.3 412.7 L971.3 416.1 L977.4 419.7 L983.6 423.3 L989.9 427.1 L996.3 430.9 L1002.7 434.9 L1009.2 438.9 L1015.8 443.0 L1022.4 447.1 L1028.9 451.4 L1035.4 455.6 L1041.8 460.0 L1048.1 464.4 L1054.2 468.9 L1060.2 473.4 L1066.0 478.0M935.1 396.6 L941.5 398.4 L947.8 400.9 L954.1 403.6 L960.4 406.6 L966.6 409.7 L972.9 413.0 L979.3 416.5 L985.7 420.0 L992.2 423.7 L998.8 427.5 L1005.5 431.3 L1012.3 435.3 L1019.1 439.3 L1026.0 443.4 L1032.9 447.6 L1039.8 451.9 L1046.6 456.2 L1053.3 460.5 L1059.9 465.0 L1066.4 469.5 L1072.7 474.0 L1078.8 478.6M940.8 396.8 L947.5 398.6 L954.1 401.0 L960.7 403.8 L967.3 406.8 L973.9 409.9 L980.5 413.2 L987.2 416.7 L994.0 420.3 L1000.8 424.0 L1007.7 427.7 L1014.7 431.6 L1021.9 435.6 L1029.0 439.6 L1036.3 443.7 L1043.5 447.9 L1050.7 452.2 L1057.9 456.5 L1064.9 460.9 L1071.9 465.3 L1078.7 469.8 L1085.4 474.4 L1091.9 479.0M946.5 396.9 L953.5 398.7 L960.4 401.1 L967.3 403.9 L974.2 406.9 L981.1 410.0 L988.1 413.4 L995.1 416.8 L1002.2 420.4 L1009.4 424.1 L1016.6 427.9 L1024.0 431.8 L1031.5 435.7 L1039.1 439.8 L1046.6 443.9 L1054.2 448.1 L1061.8 452.3 L1069.3 456.7 L1076.7 461.1 L1084.0 465.5 L1091.2 470.0 L1098.2 474.6 L1105.1 479.2M952.1 396.9 L959.4 398.7 L966.7 401.1 L973.9 403.9 L981.1 406.8 L988.4 410.0 L995.6 413.3 L1003.0 416.8 L1010.4 420.4 L1018.0 424.1 L1025.6 427.8 L1033.4 431.7 L1041.3 435.7 L1049.2 439.7 L1057.2 443.8 L1065.2 448.0 L1073.1 452.3 L1081.0 456.6 L1088.7 461.0 L1096.4 465.4 L1103.9 469.9 L1111.2 474.5 L1118.5 479.1M957.8 396.8 L965.4 398.6 L973.0 401.0 L980.5 403.8 L988.0 406.7 L995.6 409.9 L1003.2 413.2 L1010.9 416.6 L1018.7 420.2 L1026.7 423.9 L1034.7 427.6 L1042.9 431.5 L1051.2 435.5 L1059.5 439.5 L1067.9 443.6 L1076.2 447.8 L1084.5 452.0 L1092.8 456.3 L1100.9 460.7 L1108.8 465.1 L1116.7 469.6 L1124.3 474.1 L1131.8 478.7M963.5 396.7 L971.4 398.5 L979.2 400.9 L987.1 403.6 L994.9 406.5 L1002.8 409.7 L1010.8 412.9 L1018.9 416.4 L1027.1 419.9 L1035.5 423.6 L1044.0 427.3 L1052.5 431.1 L1061.2 435.1 L1070.0 439.1 L1078.7 443.2 L1087.5 447.3 L1096.1 451.5 L1104.7 455.8 L1113.1 460.2 L1121.3 464.6 L1129.4 469.0 L1137.3 473.6 L1145.0 478.1" fill="none" stroke="#c8d4ff" stroke-opacity="0.2" stroke-width="1" style="filter:blur(0.4px)"/></svg>
<div id="src1" class="abs">Source:</div>
<div id="src2" class="abs">www.grandviewresearch.com</div>
<div id="circ" class="abs"></div>
</div>
</body>
</html>
